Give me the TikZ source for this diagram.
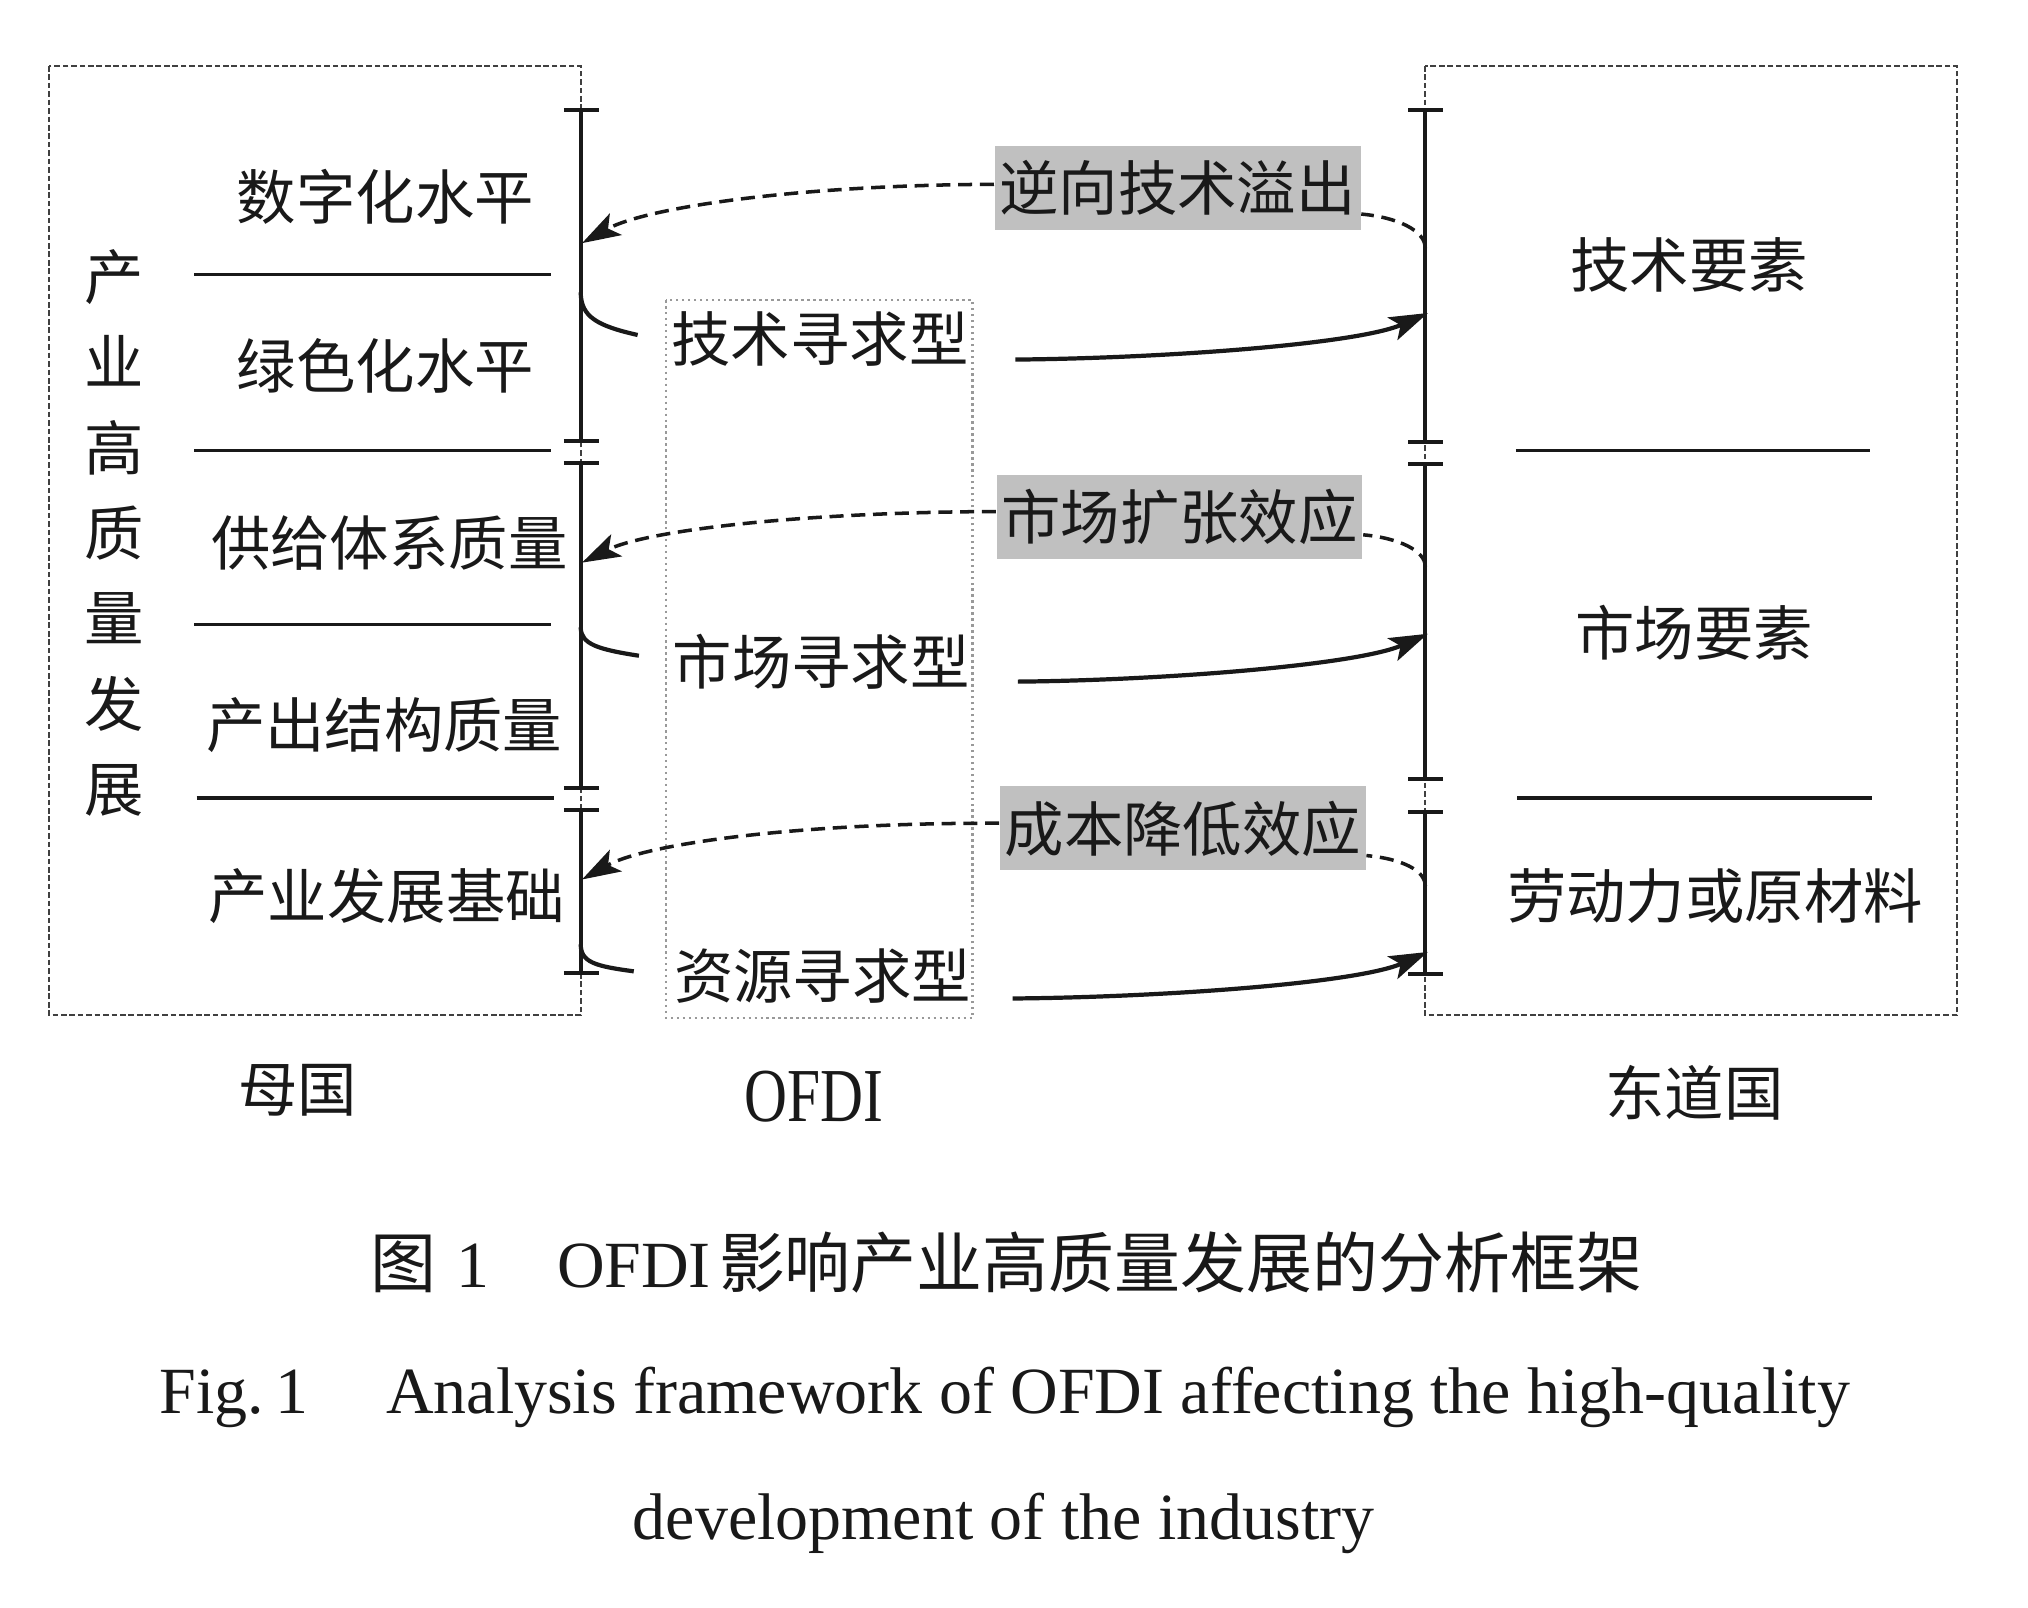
\documentclass[tikz,border=0pt]{standalone}
\usepackage{fontspec}
\setmainfont{Liberation Serif}
\newfontfamily\cjk{Noto Sans CJK SC}
\usetikzlibrary{arrows.meta,calc}
\definecolor{tagfill}{RGB}{192,192,192}
\definecolor{ink}{RGB}{25,25,25}
\newcommand\tickmark[2]{\draw[brk] (#1-13,#2) -- (#1+14,#2);}
\begin{document}
\begin{tikzpicture}[x=0.012934cm, y=-0.012934cm,
  cn/.style={font=\cjk\fontsize{16.9pt}{20pt}\selectfont, inner sep=0pt, text=ink},
  tag/.style={cn, fill=tagfill, minimum width=3.66cm, minimum height=0.841cm},
  boxline/.style={draw=black!75, line width=0.6pt, dash pattern=on 1.6pt off 0.8pt},
  midbox/.style={draw=gray!80, line width=0.7pt, densely dotted},
  sepline/.style={draw=ink, line width=0.9pt},
  brk/.style={draw=ink, line width=1.1pt},
  solidarr/.style={draw=ink, line width=1.2pt},
  dasharr/.style={draw=ink, line width=1pt, dash pattern=on 4pt off 2.2pt},
  hd/.style={-{Stealth[length=11pt,width=7pt,inset=2.5pt]}}
]
\useasboundingbox (0,0) rectangle (1568,1243);
\fill[white] (0,0) rectangle (1568,1243);

% outer boxes
\draw[boxline] (38,51) rectangle (449,785);
\draw[midbox] (515,232) rectangle (752,787);
\draw[boxline] (1102,51) rectangle (1513,785);

% left brackets
\draw[brk] (449,85) -- (449,341);
\draw[brk] (449,358) -- (449,609);
\draw[brk] (449,626) -- (449,752);
\tickmark{449}{85}\tickmark{449}{341}\tickmark{449}{358}
\tickmark{449}{609}\tickmark{449}{626}\tickmark{449}{752}
% right brackets
\draw[brk] (1102,85) -- (1102,342);
\draw[brk] (1102,359) -- (1102,602);
\draw[brk] (1102,628) -- (1102,753);
\tickmark{1102}{85}\tickmark{1102}{342}\tickmark{1102}{359}
\tickmark{1102}{602}\tickmark{1102}{628}\tickmark{1102}{753}

% separators
\draw[sepline] (150,212) -- (426,212);
\draw[sepline] (150,348) -- (426,348);
\draw[sepline] (150,483) -- (426,483);
\draw[sepline] (152,617) -- (428,617);
\draw[sepline] (1172,348) -- (1446,348);
\draw[sepline] (1173,617) -- (1447,617);

% left texts
\node[cn, align=center, font=\cjk\fontsize{16.9pt}{24.3pt}\selectfont] (vt) at (88,412) {产\\业\\高\\质\\量\\发\\展};
\node[cn] (h1) at (298,152) {数字化水平};
\node[cn] (h2) at (298,283) {绿色化水平};
\node[cn] (h3) at (301,420) {供给体系质量};
\node[cn] (h4) at (297,561) {产出结构质量};
\node[cn] (h5) at (299,693) {产业发展基础};

% middle texts
\node[cn] (m1) at (634,262) {技术寻求型};
\node[cn] (m2) at (635,512) {市场寻求型};
\node[cn] (m3) at (636,755) {资源寻求型};

% right texts
\node[cn] (r1) at (1306,205) {技术要素};
\node[cn] (r2) at (1310,489) {市场要素};
\node[cn] (r3) at (1326,693) {劳动力或原材料};

% effect tags
\node[tag] (e1) at (910.5,145.5) {逆向技术溢出};
\node[tag] (e2) at (912,399.5) {市场扩张效应};
\node[tag] (e3) at (914.5,640.5) {成本降低效应};

% connector coordinates
\coordinate (L1) at (450,188);
\coordinate (L2) at (450,435);
\coordinate (L3) at (450,680);
\coordinate (R1) at (1102,192);
\coordinate (R2) at (1102,438);
\coordinate (R3) at (1102,685);
\coordinate (A1) at (1104,242);
\coordinate (A2) at (1104,490);
\coordinate (A3) at (1104,736);
\coordinate (S1) at (785,278);
\coordinate (S2) at (787,527);
\coordinate (S3) at (783,772);
\coordinate (B1a) at (449,226);
\coordinate (B1b) at (493,259);
\coordinate (B2a) at (449,485);
\coordinate (B2b) at (494,507);
\coordinate (B3a) at (449,730);
\coordinate (B3b) at (490,751);

% row 1
\draw[dasharr] (R1) .. controls (1102,178) and (1080,168) .. ($(e1.east)+(0,20)$);
\draw[dasharr, hd] ($(e1.west)+(0,-3)$) .. controls (620,143) and (500,160) .. (L1);
\draw[solidarr] (B1a) .. controls (449,245) and (462,252) .. (B1b);
\draw[solidarr, hd] (S1) .. controls (900,277) and (1050,266) .. (A1);

% row 2
\draw[dasharr] (R2) .. controls (1102,426) and (1082,416) .. ($(e2.east)+(0,14)$);
\draw[dasharr, hd] ($(e2.west)+(0,-4)$) .. controls (620,396) and (500,410) .. (L2);
\draw[solidarr] (B2a) .. controls (449,498) and (462,502) .. (B2b);
\draw[solidarr, hd] (S2) .. controls (900,526) and (1050,514) .. (A2);

% row 3
\draw[dasharr] (R3) .. controls (1102,673) and (1084,664) .. ($(e3.east)+(0,21)$);
\draw[dasharr, hd] ($(e3.west)+(0,-4)$) .. controls (620,636) and (500,652) .. (L3);
\draw[solidarr] (B3a) .. controls (449,744) and (460,747) .. (B3b);
\draw[solidarr, hd] (S3) .. controls (900,771) and (1050,760) .. (A3);

% bottom labels
\node[cn] (home) at (230,843) {母国};
\node[inner sep=0pt, text=ink, font=\fontsize{21.7pt}{24pt}\selectfont] (ofdi) at (629,848) {\scalebox{0.78}[1]{OFDI}};
\node[cn] (host) at (1310,845) {东道国};

% caption
\node[inner sep=0pt, text=ink, font=\fontsize{18.77pt}{22pt}\selectfont] (cap1) at (778,976)
  {{\cjk 图}\hspace{0.2cm}1\hspace{0.68cm}OFDI\hspace{0.08cm}{\cjk 影响产业高质量发展的分析框架}};
\node[inner sep=0pt, text=ink, anchor=base west, font=\fontsize{18.77pt}{22pt}\selectfont] (cap2) at (123,1093)
  {Fig.\,1\hspace{0.78cm}Analysis framework of OFDI affecting the high-quality};
\node[inner sep=0pt, text=ink, anchor=base, font=\fontsize{18.77pt}{22pt}\selectfont] (cap3) at (776,1190)
  {development of the industry};
\end{tikzpicture}
\end{document}
